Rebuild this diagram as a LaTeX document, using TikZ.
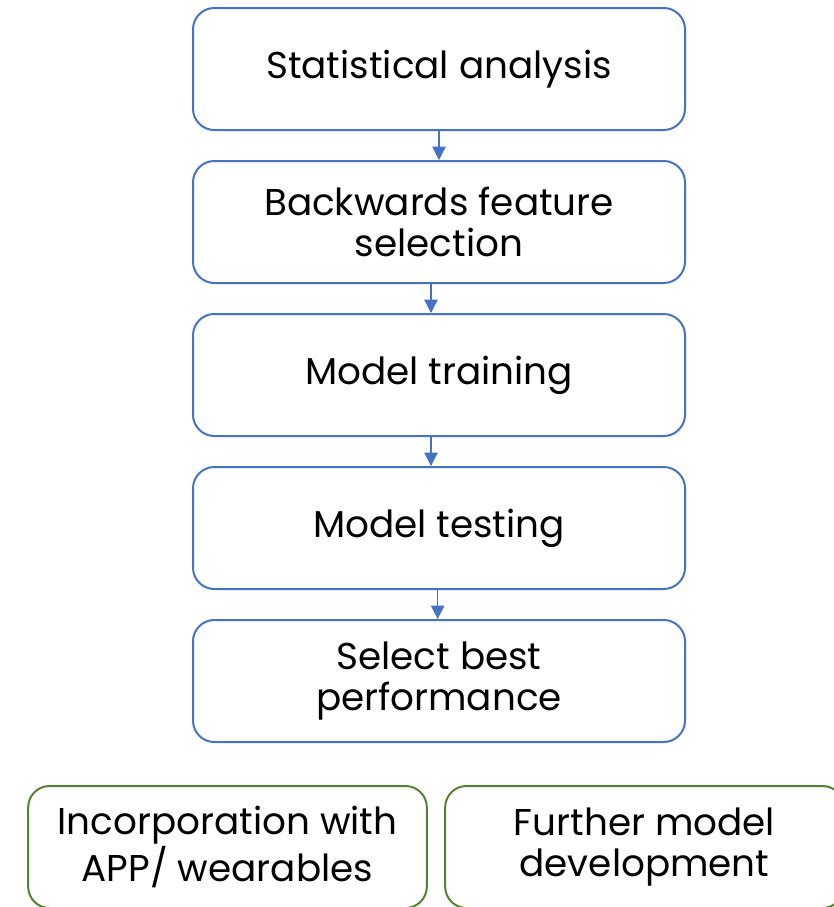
\documentclass[tikz,border=0pt]{standalone}
\usepackage{fontspec}
\setmainfont{Poppins}
\usetikzlibrary{arrows.meta}
\definecolor{boxblue}{RGB}{68,114,196}
\definecolor{boxgreen}{RGB}{84,130,53}
\tikzset{
  stepbox/.style={draw=boxblue, line width=1.5pt, rounded corners=16pt,
    minimum width=369pt, minimum height=91.5pt, align=center,
    font=\fontsize{28}{31}\selectfont},
  outbox/.style={stepbox, draw=boxgreen, minimum width=299pt},
  flow/.style={draw=boxblue, line width=0.9pt,
    -{Triangle[length=10pt,width=10pt]}}
}
\begin{document}
\begin{tikzpicture}[x=0.75pt,y=-0.75pt]
% page frame
\useasboundingbox (0,0) rectangle (833,907);

% Drawing the steps
\node[stepbox] (stats) at (439,69) {Statistical analysis};
\node[stepbox] (select) at (439,222) {Backwards feature\\selection};
\node[stepbox] (train) at (439,375) {Model training};
\node[stepbox] (test) at (439,528) {Model testing};
\node[stepbox] (best) at (439,681) {Select best\\performance};

% Drawing the outcomes
\node[outbox] (app) at (227.5,847) {Incorporation with\\APP/ wearables};
\node[outbox] (further) at (644.5,847) {Further model\\development};

% Drawing arrows
\draw[flow] (stats.south) -- (select.north);
\draw[flow] ([xshift=-6pt]select.south) -- ([xshift=-6pt]train.north);
\draw[flow] ([xshift=-6pt]train.south) -- ([xshift=-6pt]test.north);
\draw[flow] ([xshift=-1pt]test.south) -- ([xshift=-1pt]best.north);
\end{tikzpicture}
\end{document}
